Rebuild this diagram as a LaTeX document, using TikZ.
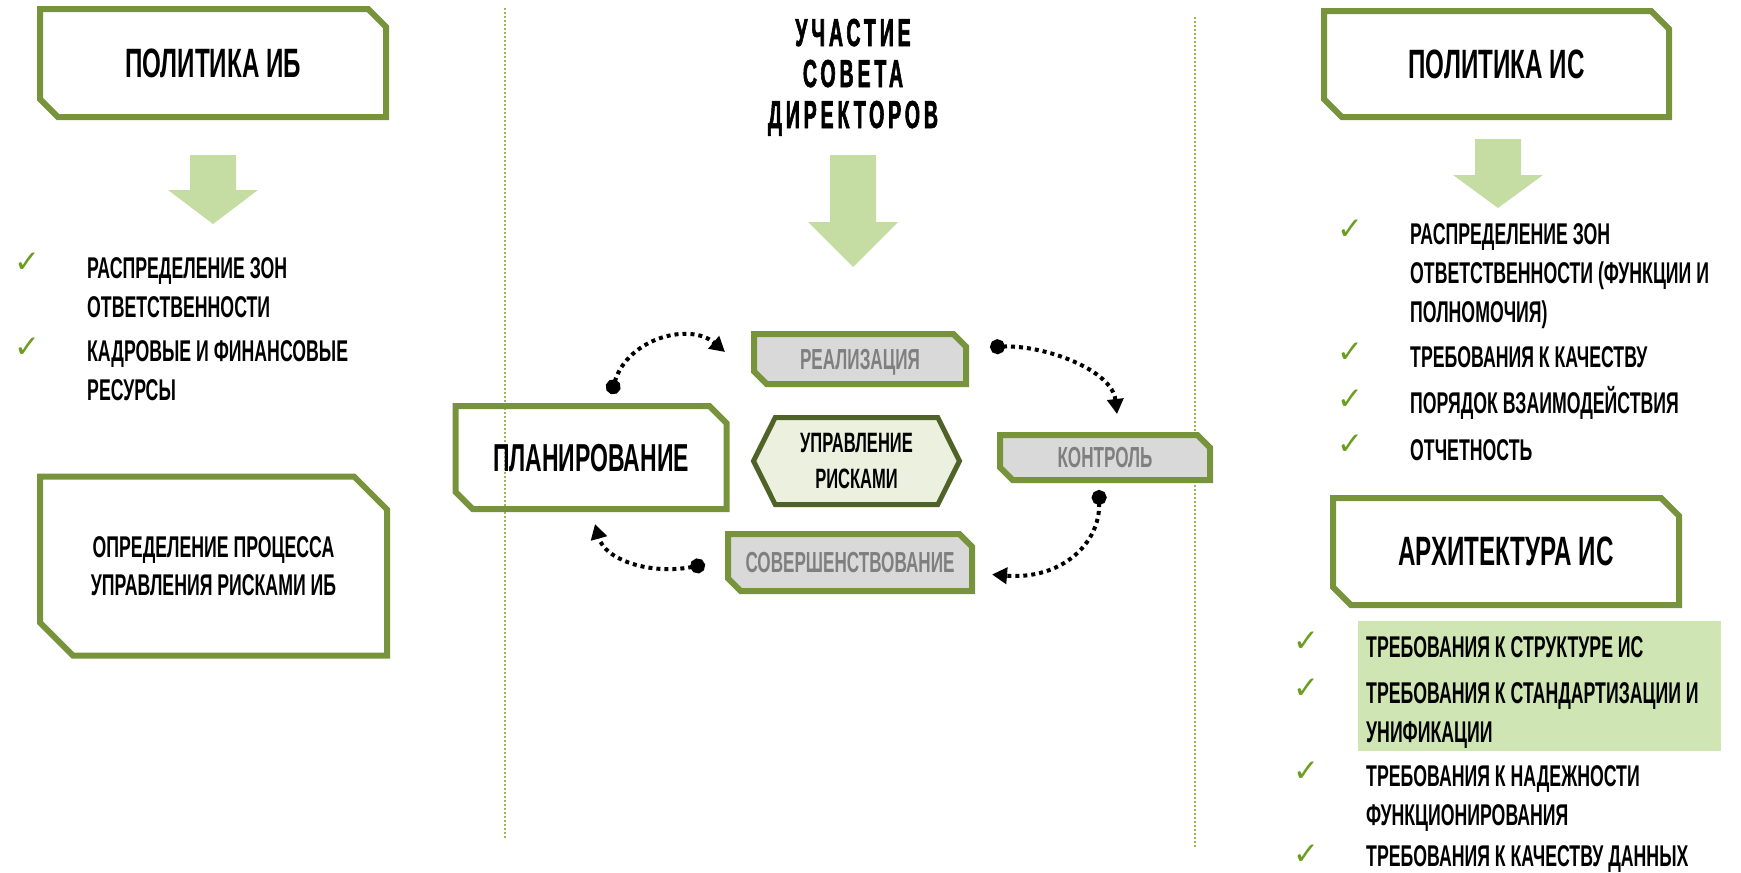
\documentclass[tikz,border=0pt]{standalone}
\usepackage{fontspec}
\setmainfont{Liberation Sans}
\newfontfamily\narrowfont[FakeStretch=0.59]{Liberation Sans}
\newfontfamily\headfont[FakeStretch=0.5,LetterSpace=10,FakeBold=1.5]{Liberation Sans}
\newfontfamily\symfont{DejaVu Sans}
\usetikzlibrary{shapes.misc,shapes.symbols,arrows.meta}
\definecolor{olive}{HTML}{77933C}
\definecolor{darkolive}{HTML}{4F6228}
\definecolor{palegreen}{HTML}{C5DDA3}
\definecolor{markgreen}{HTML}{CFE5B4}
\definecolor{hexfill}{HTML}{EBF1DE}
\definecolor{boxgray}{HTML}{D9D9D9}
\definecolor{labelgray}{HTML}{7F7F7F}
\definecolor{tickgreen}{HTML}{6B9E1F}
\definecolor{sepgreen}{HTML}{9BBB59}
\tikzset{
  chbox/.style={draw=olive, line width=6pt, chamfered rectangle,
    chamfered rectangle corners={north east,south west},
    chamfered rectangle xsep=#1, inner sep=0pt, text depth=0pt, align=center},
  stage/.style={chbox=9pt, fill=boxgray, text=labelgray,
    font=\narrowfont\bfseries\fontsize{29}{35}\selectfont},
  listitem/.style={anchor=base west, inner sep=0pt, align=left,
    font=\narrowfont\bfseries\fontsize{30}{39}\selectfont},
  checkmark/.style={text=tickgreen, inner sep=0pt, font=\symfont\fontsize{31}{31}\selectfont},
  cyc/.style={line width=4pt, dash pattern=on 4pt off 4pt,
    {Circle[length=15pt]}-{Triangle[length=15pt,width=16pt]}},
  divider/.style={sepgreen, line width=1.5pt, dash pattern=on 2pt off 2pt}
}
\begin{document}
\begin{tikzpicture}[x=1pt,y=-1pt]
\useasboundingbox (0,0) rectangle (1741,873);
% column separators
\draw[divider] (505,8) -- (505,838);
\draw[divider] (1195,17) -- (1195,847);
% block arrows
\foreach \cx/\top/\neck/\tip in {213/155/190/224, 853/155/222/267, 1498/139/175/208}
  \fill[palegreen] (\cx-23,\top) -- (\cx+23,\top) -- (\cx+23,\neck) -- (\cx+45,\neck)
    -- (\cx,\tip) -- (\cx-45,\neck) -- (\cx-23,\neck) -- cycle;
\fill[markgreen] (1358,621) rectangle (1721,751);

% left column
\node[chbox=20pt, minimum width=346pt, minimum height=108pt, font=\narrowfont\bfseries\fontsize{41}{41}\selectfont] (polib) at (213,63) {ПОЛИТИКА ИБ};
\node[checkmark] (cib1) at (27,263) {✓};
\node[checkmark] (cib2) at (27,348) {✓};
\node[listitem] (ib1) at (87,317) {РАСПРЕДЕЛЕНИЕ ЗОН\\ОТВЕТСТВЕННОСТИ};
\node[listitem] (ib2) at (87,400) {КАДРОВЫЕ И ФИНАНСОВЫЕ\\РЕСУРСЫ};
\node[chbox=32pt, minimum width=347pt, minimum height=179pt, font=\narrowfont\bfseries\fontsize{30}{38}\selectfont] (procib) at (213.5,566) {ОПРЕДЕЛЕНИЕ ПРОЦЕССА\\УПРАВЛЕНИЯ РИСКАМИ ИБ};

% middle column
\node[anchor=base, align=center, inner sep=0pt, font=\headfont\bfseries\fontsize{39}{41}\selectfont] (board) at (853,128) {УЧАСТИЕ\\СОВЕТА\\ДИРЕКТОРОВ};
\node[chbox=17pt, minimum width=271pt, minimum height=103pt, font=\narrowfont\bfseries\fontsize{39}{39}\selectfont] (plan) at (591,457.5) {ПЛАНИРОВАНИЕ};
\node[stage, minimum width=212pt, minimum height=50pt] (real) at (860,359) {РЕАЛИЗАЦИЯ};
\node[stage, minimum width=210pt, minimum height=45pt] (ctrl) at (1105,457.5) {КОНТРОЛЬ};
\node[stage, minimum width=244pt, minimum height=57pt] (impr) at (850,562.5) {СОВЕРШЕНСТВОВАНИЕ};
\node[signal, signal to=east and west, signal pointer angle=127, draw=darkolive, line width=5pt, fill=hexfill,
  minimum width=206pt, minimum height=87pt, inner sep=0pt, align=center,
  font=\narrowfont\bfseries\fontsize{28}{36}\selectfont] (risk) at (856.5,461) {УПРАВЛЕНИЕ\\РИСКАМИ};
\draw[cyc] ([xshift=20pt,yshift=9pt]plan.north) .. controls (628,338) and (690,322) .. ([xshift=-26pt,yshift=7pt]real.west);
\draw[cyc] ([xshift=21pt,yshift=12pt]real.east) .. controls (1045,345) and (1112,370) .. ([xshift=12pt,yshift=18pt]ctrl.north);
\draw[cyc] ([xshift=-6pt,yshift=-7pt]ctrl.south) .. controls (1100,545) and (1060,580) .. ([xshift=17pt,yshift=-12pt]impr.east);
\draw[cyc] ([xshift=-20pt,yshift=-2pt]impr.west) .. controls (650,575) and (605,560) .. ([xshift=4pt,yshift=-12pt]plan.south);

% right column
\node[chbox=20pt, minimum width=345pt, minimum height=106pt, font=\narrowfont\bfseries\fontsize{41}{41}\selectfont] (polis) at (1496.5,64) {ПОЛИТИКА ИС};
\node[checkmark] (cis1) at (1350,230) {✓};
\node[checkmark] (cis2) at (1350,353) {✓};
\node[checkmark] (cis3) at (1350,400) {✓};
\node[checkmark] (cis4) at (1350,445) {✓};
\node[listitem] (is1) at (1410,322) {РАСПРЕДЕЛЕНИЕ ЗОН\\ОТВЕТСТВЕННОСТИ (ФУНКЦИИ И\\ПОЛНОМОЧИЯ)};
\node[listitem] (is2) at (1410,367) {ТРЕБОВАНИЯ К КАЧЕСТВУ};
\node[listitem] (is3) at (1410,413) {ПОРЯДОК ВЗАИМОДЕЙСТВИЯ};
\node[listitem] (is4) at (1410,460) {ОТЧЕТНОСТЬ};
\node[chbox=19pt, minimum width=346pt, minimum height=107pt, font=\narrowfont\bfseries\fontsize{41}{41}\selectfont] (arch) at (1506,551.5) {АРХИТЕКТУРА ИС};
\node[checkmark] (car1) at (1306,642) {✓};
\node[checkmark] (car2) at (1306,689) {✓};
\node[checkmark] (car3) at (1306,772) {✓};
\node[checkmark] (car4) at (1306,855) {✓};
\node[listitem] (ar1) at (1366,657) {ТРЕБОВАНИЯ К СТРУКТУРЕ ИС};
\node[listitem] (ar2) at (1366,742) {ТРЕБОВАНИЯ К СТАНДАРТИЗАЦИИ И\\УНИФИКАЦИИ};
\node[listitem] (ar3) at (1366,825) {ТРЕБОВАНИЯ К НАДЕЖНОСТИ\\ФУНКЦИОНИРОВАНИЯ};
\node[listitem] (ar4) at (1366,866) {ТРЕБОВАНИЯ К КАЧЕСТВУ ДАННЫХ};
\end{tikzpicture}
\end{document}
